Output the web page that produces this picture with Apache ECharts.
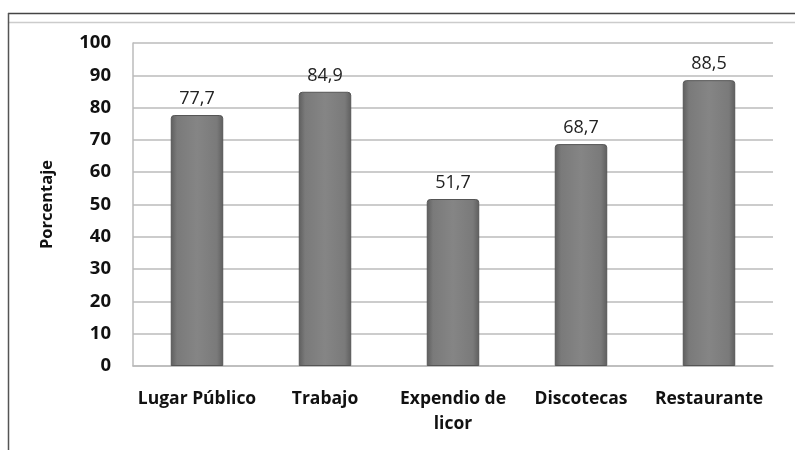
<!DOCTYPE html>
<html>
<head>
<meta charset="utf-8">
<script src="https://cdn.jsdelivr.net/npm/echarts@6/dist/echarts.min.js"></script>
<style>html,body{margin:0;padding:0;background:#fff}#c{width:795px;height:450px}</style>
</head>
<body>
<div id="c"></div>
<script>
const categories = ['Lugar Público', 'Trabajo', 'Expendio de\nlicor', 'Discotecas', 'Restaurante'];
const values = [77.7, 84.9, 51.7, 68.7, 88.5];
const yTicks = [0, 10, 20, 30, 40, 50, 60, 70, 80, 90, 100];

const chart = echarts.init(document.getElementById('c'));
chart.setOption({
  animation: false,
  backgroundColor: '#fff',
  grid: { left: 133, right: 22, top: 43, bottom: 84, containLabel: false },
  graphic: [
    { type: 'line', shape: { x1: 8, y1: 13.5, x2: 795, y2: 13.5 }, style: { stroke: '#444', lineWidth: 1.5 } },
    { type: 'line', shape: { x1: 8, y1: 22.5, x2: 795, y2: 22.5 }, style: { stroke: '#ccc', lineWidth: 1.5 } },
    { type: 'line', shape: { x1: 8.5, y1: 13, x2: 8.5, y2: 450 }, style: { stroke: '#555', lineWidth: 1.5 } }
  ],
  xAxis: {
    type: 'category',
    data: categories,
    axisLine: { show: true, lineStyle: { color: '#bbb', width: 1.5 } },
    axisTick: { show: false },
    axisLabel: {
      color: '#111', fontFamily: 'Open Sans', fontWeight: 'bold', fontSize: 17.5,
      margin: 21, lineHeight: 25, interval: 0
    }
  },
  yAxis: {
    type: 'value', min: 0, max: 100, interval: 10,
    name: 'Porcentaje', nameLocation: 'middle', nameGap: 77, nameRotate: 90,
    nameTextStyle: { color: '#111', fontFamily: 'Open Sans', fontWeight: 'bold', fontSize: 16.5 },
    axisLine: { show: true, lineStyle: { color: '#bbb', width: 1.5 } },
    axisTick: { show: false },
    axisLabel: {
      color: '#111', fontFamily: 'Open Sans', fontWeight: 'bold', fontSize: 18.5, margin: 22,
      formatter: v => yTicks.includes(v) ? String(v) : ''
    },
    splitLine: { show: true, lineStyle: { color: '#bbb', width: 1.5 } }
  },
  series: [{
    type: 'bar',
    data: values,
    barWidth: '41%',
    itemStyle: {
      color: {
        type: 'linear', x: 0, y: 0, x2: 1, y2: 0,
        colorStops: [
          { offset: 0, color: '#5e5e5e' },
          { offset: 0.12, color: '#7a7a7a' },
          { offset: 0.5, color: '#858585' },
          { offset: 0.88, color: '#7a7a7a' },
          { offset: 1, color: '#5e5e5e' }
        ]
      },
      borderColor: '#555', borderWidth: 1, borderRadius: [3, 3, 0, 0]
    },
    label: {
      show: true, position: 'top', distance: 7,
      color: '#222', fontFamily: 'Open Sans', fontSize: 18,
      formatter: p => String(p.value).replace('.', ',')
    }
  }]
});
</script>
</body>
</html>
